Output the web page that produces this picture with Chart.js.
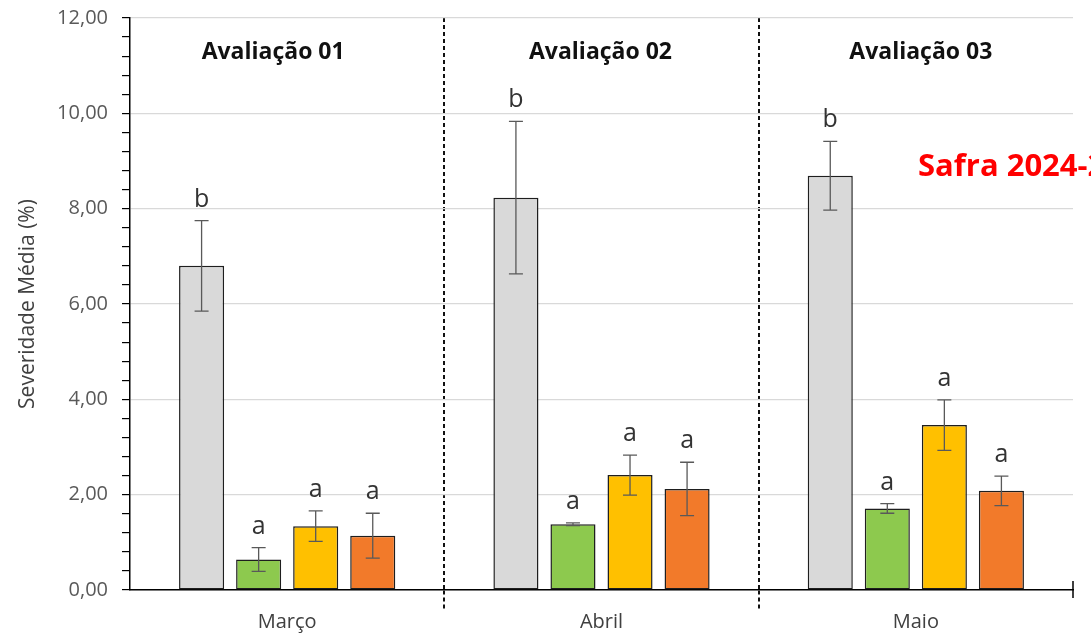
<!DOCTYPE html>
<html>
<head>
<meta charset="utf-8">
<script src="https://cdn.jsdelivr.net/npm/chart.js@4"></script>
<style>
    html, body { margin: 0; padding: 0; background: #fff; }
    #wrap { width: 1091px; height: 634px; }
</style>
</head>
<body>
<div id="wrap"><canvas id="grafico"></canvas></div>
<script>
// dados
var meses = ['Março', 'Abril', 'Maio'];
var avaliacoes = ['Avaliação 01', 'Avaliação 02', 'Avaliação 03'];

var cinza = [6.80, 8.23, 8.69];
var verde = [0.64, 1.38, 1.71];
var amarelo = [1.34, 2.41, 3.46];
var laranja = [1.14, 2.12, 2.08];

var errCinza = [0.95, 1.60, 0.72];
var errVerde = [0.25, 0.03, 0.10];
var errAmarelo = [0.32, 0.42, 0.53];
var errLaranja = [0.47, 0.56, 0.31];

var letrasCinza = ['b', 'b', 'b'];
var letrasVerde = ['a', 'a', 'a'];
var letrasAmarelo = ['a', 'a', 'a'];
var letrasLaranja = ['a', 'a', 'a'];

var yMin = 0, yMax = 12, yPasso = 0.4, yMaior = 2;
var safra = 'Safra 2024-2025';

// pequeno deslocamento horizontal dos titulos (px)
var tituloDx = [-14, -1, 5];

var erros = [errCinza, errVerde, errAmarelo, errLaranja];
var letras = [letrasCinza, letrasVerde, letrasAmarelo, letrasLaranja];

function ehMaior(v) {
    return Math.abs(v / yMaior - Math.round(v / yMaior)) < 1e-6;
}

function corDivisoria(c) {
    return (c.index === 1 || c.index === 2) ? '#111' : 'rgba(0,0,0,0)';
}

var extras = {
    id: 'extras',
    afterDatasetsDraw: function (chart) {
        var c = chart.ctx;
        var y = chart.scales.y;
        var x = chart.scales.x;
        c.save();
        // barras de erro e letras
        chart.data.datasets.forEach(function (ds, i) {
            var meta = chart.getDatasetMeta(i);
            meta.data.forEach(function (bar, j) {
                var v = ds.data[j], e = erros[i][j];
                var yt = y.getPixelForValue(v + e);
                var yb = y.getPixelForValue(v - e);
                c.strokeStyle = '#595959';
                c.lineWidth = 1.3;
                c.beginPath();
                c.moveTo(bar.x, yt); c.lineTo(bar.x, yb);
                c.moveTo(bar.x - 7, yt); c.lineTo(bar.x + 7, yt);
                c.moveTo(bar.x - 7, yb); c.lineTo(bar.x + 7, yb);
                c.stroke();
                c.fillStyle = '#333';
                c.font = '25px "Open Sans"';
                c.textAlign = 'center';
                c.textBaseline = 'alphabetic';
                c.fillText(letras[i][j], bar.x, yt - 14);
            });
        });
        // titulos das avaliacoes
        c.fillStyle = '#111';
        c.font = 'bold 23px "Open Sans"';
        c.textAlign = 'center';
        c.textBaseline = 'middle';
        avaliacoes.forEach(function (t, j) {
            c.fillText(t, x.getPixelForValue(j) + tituloDx[j], chart.chartArea.top + 34);
        });
        // traco final do eixo x
        c.strokeStyle = '#000';
        c.lineWidth = 1.5;
        c.beginPath();
        c.moveTo(x.right, y.bottom - 9);
        c.lineTo(x.right, y.bottom + 8);
        c.stroke();
        // texto vermelho
        c.fillStyle = '#ff0000';
        c.font = 'bold 31px "Open Sans"';
        c.textAlign = 'left';
        c.fillText(safra, chart.width - 173, 167);
        c.restore();
    }
};

var ctx = document.getElementById('grafico');

var grafico = new Chart(ctx, {
    type: 'bar',
    data: {
        labels: meses,
        datasets: [
            { label: 'T1', data: cinza, backgroundColor: '#d9d9d9' },
            { label: 'T2', data: verde, backgroundColor: '#8dc94e' },
            { label: 'T3', data: amarelo, backgroundColor: '#ffc000' },
            { label: 'T4', data: laranja, backgroundColor: '#f27a2a' }
        ]
    },
    options: {
        responsive: true,
        maintainAspectRatio: false,
        animation: false,
        layout: { padding: { top: 18, right: 18, left: 0, bottom: 0 } },
        datasets: {
            bar: {
                borderColor: '#1e1e1e',
                borderWidth: 1.5,
                borderSkipped: false,
                categoryPercentage: 0.726,
                barPercentage: 0.79
            }
        },
        plugins: {
            legend: { display: false },
            tooltip: { enabled: false }
        },
        scales: {
            x: {
                afterFit: function (s) { s.height = 44; s.paddingLeft = 0; s.paddingRight = 0; },
                grid: {
                    offset: true,
                    color: corDivisoria,
                    tickColor: corDivisoria,
                    lineWidth: 2,
                    tickLength: 19,
                    tickBorderDash: [4, 3]
                },
                border: { color: '#000', width: 1.5, dash: [4, 3] },
                ticks: {
                    color: '#404040',
                    font: { family: 'Open Sans', size: 20 },
                    padding: 1
                }
            },
            y: {
                min: yMin,
                max: yMax,
                afterFit: function (s) { s.width = 130; s.paddingTop = 0; s.paddingBottom = 0; },
                grid: {
                    color: function (c) { return c.tick && ehMaior(c.tick.value) ? '#d9d9d9' : 'rgba(0,0,0,0)'; },
                    tickColor: '#000',
                    tickLength: 8,
                    lineWidth: 1.2
                },
                border: { color: '#000', width: 1.5 },
                ticks: {
                    stepSize: yPasso,
                    autoSkip: false,
                    color: '#595959',
                    padding: 14,
                    font: { family: 'Open Sans', size: 20 },
                    callback: function (v) {
                        return ehMaior(v) ? v.toFixed(2).replace('.', ',') : '';
                    }
                },
                title: {
                    display: true,
                    text: 'Severidade Média (%)',
                    color: '#404040',
                    font: { family: 'Open Sans', size: 21 },
                    padding: { top: 15, bottom: 0 }
                }
            }
        }
    },
    plugins: [extras]
});
</script>
</body>
</html>
